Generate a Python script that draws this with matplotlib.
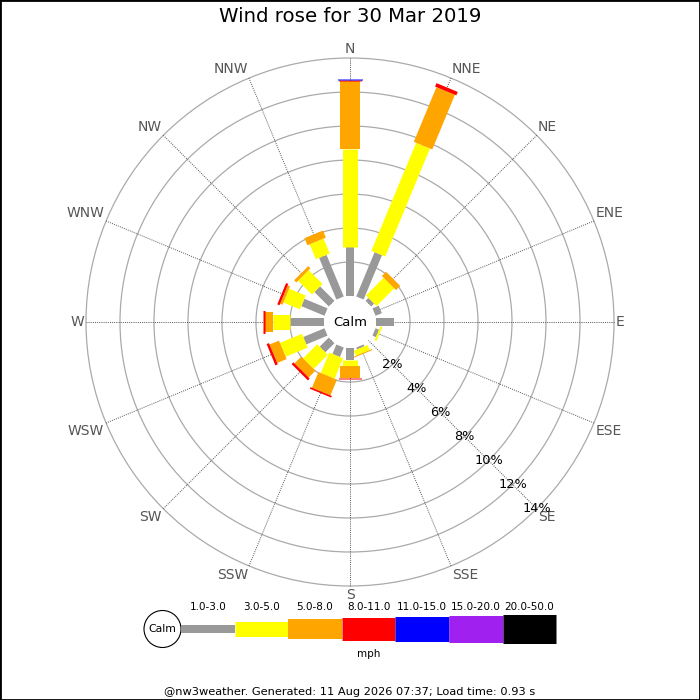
import numpy as np
import matplotlib
matplotlib.use("Agg")
import matplotlib.pyplot as plt
from matplotlib.patches import Circle, Rectangle

# ---- data (percent of time per direction and speed bin) ----
directions = ["N", "NNE", "NE", "ENE", "E", "ESE", "SE", "SSE",
              "S", "SSW", "SW", "WSW", "W", "WNW", "NW", "NNW"]
speed_bins = ["1.0-3.0", "3.0-5.0", "5.0-8.0", "8.0-11.0",
              "11.0-15.0", "15.0-20.0", "20.0-50.0"]
bin_colors = ["#999999", "#ffff00", "#ffa500", "#ff0000",
              "#0000ff", "#a020f0", "#000000"]

pct_1_3 = [2.88, 2.82, 0.24, 0.40, 1.06, 0.22, 0.0, 0.12,
           0.70, 0.60, 0.76, 1.35, 2.00, 1.47, 1.20, 2.65]
pct_3_5 = [5.77, 6.88, 1.47, 0.0, 0.0, 0.12, 0.0, 0.32,
           0.36, 1.30, 1.18, 1.40, 1.00, 1.06, 1.15, 0.95]
pct_5_8 = [4.00, 3.48, 0.35, 0.0, 0.0, 0.0, 0.0, 0.06,
           0.70, 1.00, 0.56, 0.60, 0.47, 0.15, 0.18, 0.45]
pct_8_11 = [0.03, 0.22, 0.0, 0.0, 0.0, 0.0, 0.0, 0.0,
            0.09, 0.10, 0.15, 0.15, 0.13, 0.14, 0.0, 0.0]
pct_11_15 = [0.11, 0.0, 0.0, 0.0, 0.0, 0.0, 0.0, 0.0,
             0.0, 0.0, 0.0, 0.0, 0.0, 0.0, 0.0, 0.0]
pct_15_20 = [0.0] * 16
pct_20_50 = [0.0] * 16

ring_pcts = [2, 4, 6, 8, 10, 12, 14]

title = "Wind rose for 30 Mar 2019"
footer = "@nw3weather. Generated: 11 Aug 2026 07:37; Load time: 0.93 s"

# ---- layout ----
DPI = 100
PX = 72.0 / DPI          # points per pixel
SCALE = 17.0             # pixels per percent
CALM = 26.0 / SCALE      # calm circle radius in percent units
CX, CY = 350, 322        # rose centre (pixels from top-left)
HALF = 300               # half size of rose axes in pixels
bar_px = [8, 15, 20, 23, 25, 27, 29]

fig = plt.figure(figsize=(7, 7), dpi=DPI)
fig.patch.set_facecolor("white")

ax = fig.add_axes([(CX - HALF) / 700, (700 - CY - HALF) / 700,
                   2 * HALF / 700, 2 * HALF / 700])
lim = HALF / SCALE
ax.set_xlim(-lim, lim)
ax.set_ylim(-lim, lim)
ax.set_aspect("equal")
ax.axis("off")

angles = np.deg2rad(np.arange(16) * 22.5)
ux, uy = np.sin(angles), np.cos(angles)
rmax = CALM + ring_pcts[-1]

# rings
for p in ring_pcts:
    ax.add_patch(Circle((0, 0), CALM + p, fill=False, ec="#aaaaaa", lw=0.9, zorder=1))

# spokes and direction labels
for i, name in enumerate(directions):
    ax.plot([0, rmax * ux[i]], [0, rmax * uy[i]], color="#555555", lw=0.7,
            linestyle=(0, (1, 1.2)), zorder=1)
    s, c = ux[i], uy[i]
    ha = "left" if s > 0.1 else ("right" if s < -0.1 else "center")
    va = "bottom" if c > 0.1 else ("top" if c < -0.1 else "center")
    rl = rmax + 2.0 / SCALE
    ax.text(rl * s, rl * c, name, ha=ha, va=va, fontsize=10, color="#555555",
            clip_on=False)

# stacked bars
table = np.array([pct_1_3, pct_3_5, pct_5_8, pct_8_11, pct_11_15, pct_15_20, pct_20_50])
for i in range(16):
    start = CALM
    for b in range(len(speed_bins)):
        v = table[b, i]
        if v <= 0:
            continue
        end = start + v
        ax.plot([start * ux[i], end * ux[i]], [start * uy[i], end * uy[i]],
                color=bin_colors[b], lw=bar_px[b] * PX, solid_capstyle="butt",
                zorder=3 + b * 0.01)
        start = end

# calm circle
ax.add_patch(Circle((0, 0), CALM, fc="white", ec="none", zorder=2))
ax.text(0, 0, "Calm", ha="center", va="center", fontsize=9.5, zorder=5)

# percentage labels along SE
se = np.deg2rad(135)
for p in ring_pcts:
    ax.text((CALM + p) * np.sin(se), (CALM + p) * np.cos(se), f"{p}%",
            ha="center", va="center", fontsize=9.3, color="black", zorder=6)

fig.text(0.5, 1 - 17 / 700, title, ha="center", va="center", fontsize=14.2)

# ---- speed legend ----
lg = fig.add_axes([0, 0, 1, 1])
lg.set_xlim(0, 700)
lg.set_ylim(700, 0)
lg.axis("off")
lg.patch.set_alpha(0)
ly = 629
x0, seg = 181, 53.6
for b, lab in enumerate(speed_bins):
    xa = x0 + b * seg
    lg.plot([xa, xa + seg], [ly, ly], color=bin_colors[b], lw=bar_px[b] * PX,
            solid_capstyle="butt")
    lg.text(xa + seg / 2, 607, lab, ha="center", va="center", fontsize=7.5)
lg.add_patch(Circle((162.5, ly), 18.5, fc="white", ec="black", lw=0.8))
lg.text(162.5, ly, "Calm", ha="center", va="center", fontsize=7.8)
lg.text(x0 + 3.5 * seg, 654, "mph", ha="center", va="center", fontsize=7.5)
lg.text(350, 692, footer, ha="center", va="center", fontsize=8.2)

fig.patches.append(Rectangle((0, 0), 1, 1, transform=fig.transFigure,
                             fill=False, ec="black", lw=2.0))

fig.savefig("out.png", dpi=DPI)
